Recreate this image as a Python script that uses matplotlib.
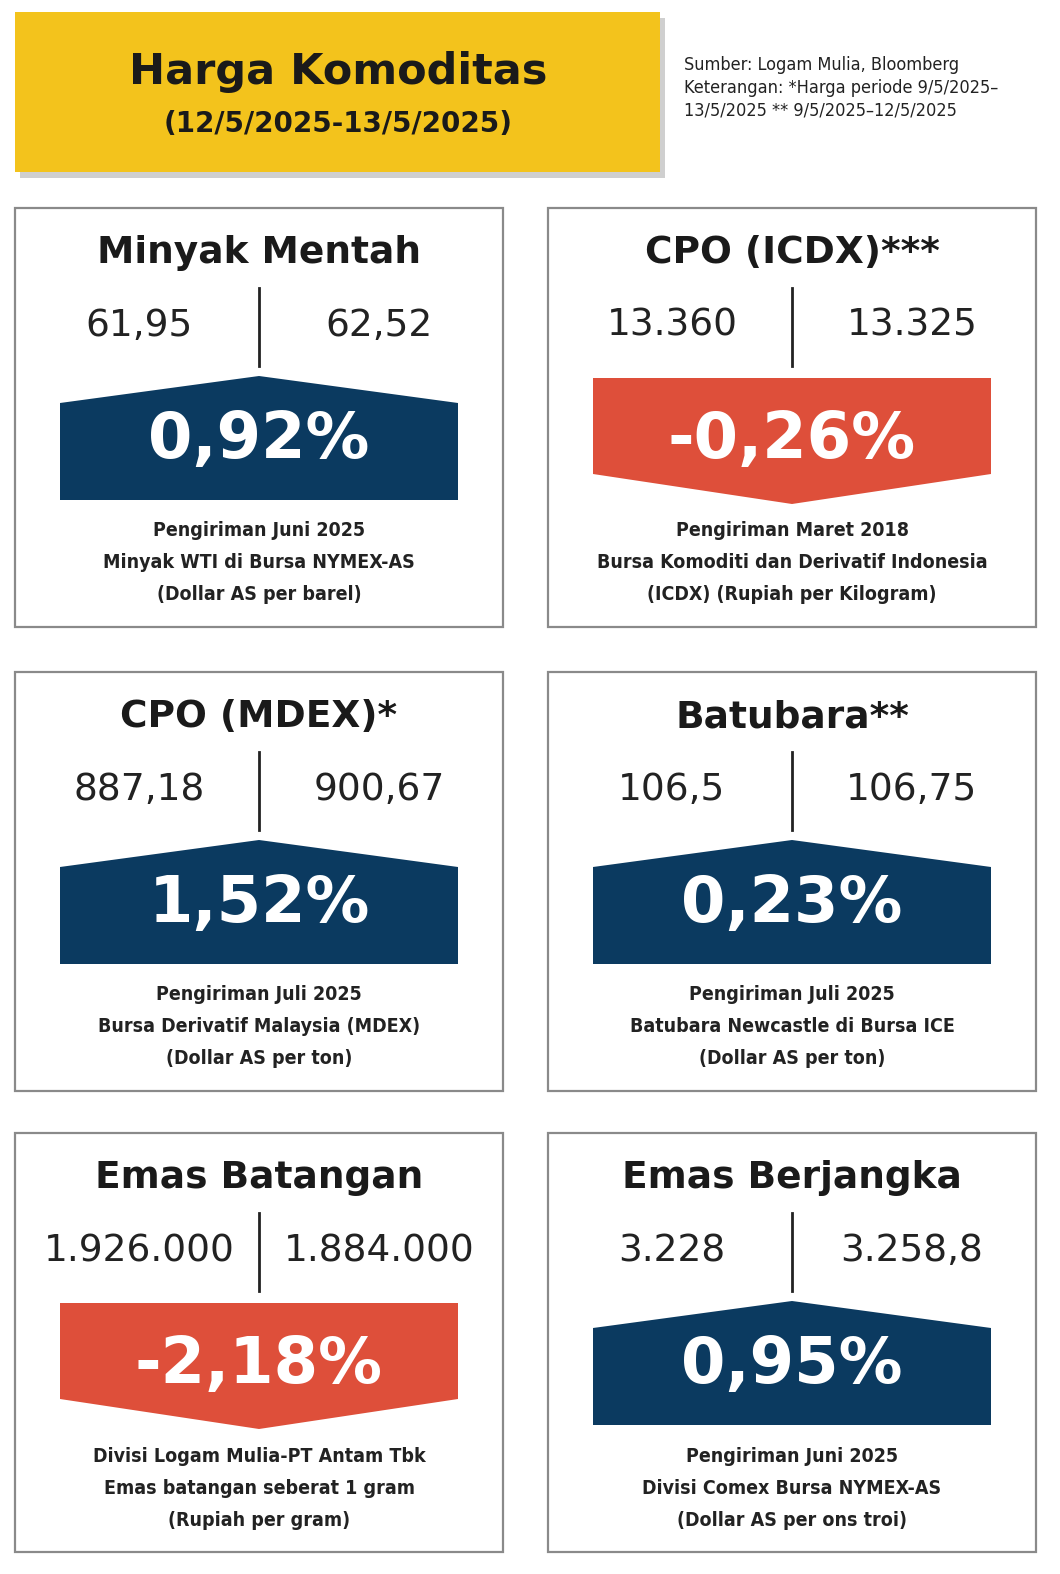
"""
Infografis harga komoditas (12/5/2025-13/5/2025)
"""

import matplotlib
matplotlib.use('Agg')
import matplotlib.pyplot as plt
from matplotlib.patches import Rectangle, Polygon

# Data komoditas
names = ['Minyak Mentah', 'CPO (ICDX)***', 'CPO (MDEX)*', 'Batubara**',
         'Emas Batangan', 'Emas Berjangka']
prev_values = ['61,95', '13.360', '887,18', '106,5', '1.926.000', '3.228']
last_values = ['62,52', '13.325', '900,67', '106,75', '1.884.000', '3.258,8']
changes = [0.92, -0.26, 1.52, 0.23, -2.18, 0.95]
notes = [
    ['Pengiriman Juni 2025', 'Minyak WTI di Bursa NYMEX-AS', '(Dollar AS per barel)'],
    ['Pengiriman Maret 2018', 'Bursa Komoditi dan Derivatif Indonesia', '(ICDX) (Rupiah per Kilogram)'],
    ['Pengiriman Juli 2025', 'Bursa Derivatif Malaysia (MDEX)', '(Dollar AS per ton)'],
    ['Pengiriman Juli 2025', 'Batubara Newcastle di Bursa ICE', '(Dollar AS per ton)'],
    ['Divisi Logam Mulia-PT Antam Tbk', 'Emas batangan seberat 1 gram', '(Rupiah per gram)'],
    ['Pengiriman Juni 2025', 'Divisi Comex Bursa NYMEX-AS', '(Dollar AS per ons troi)'],
]

BLUE = '#0B3A60'
RED = '#DE4F3A'
YELLOW = '#F3C31C'


def draw_panel(ax, x0, y0, i):
    """Satu kotak komoditas"""
    w, h = 488, 419
    cx = x0 + w / 2
    ax.add_patch(Rectangle((x0, y0), w, h, fill=False, ec='#8a8a8a', lw=1.6))
    ax.text(cx, y0 + 45, names[i], ha='center', va='center', fontsize=27,
            fontweight='heavy', color='#1a1a1a')
    ax.plot([cx, cx], [y0 + 80, y0 + 158], color='#222222', lw=2)
    ax.text(cx - 120, y0 + 118, prev_values[i], ha='center', va='center',
            fontsize=27, color='#222222')
    ax.text(cx + 120, y0 + 118, last_values[i], ha='center', va='center',
            fontsize=27, color='#222222')

    left, right = x0 + 45, x0 + w - 45
    if changes[i] >= 0:
        pts = [(left, y0 + 195), (cx, y0 + 168), (right, y0 + 195),
               (right, y0 + 292), (left, y0 + 292)]
        color = BLUE
        label = f'{changes[i]:.2f}%'.replace('.', ',')
    else:
        pts = [(left, y0 + 170), (right, y0 + 170), (right, y0 + 266),
               (cx, y0 + 296), (left, y0 + 266)]
        color = RED
        label = f'{changes[i]:.2f}%'.replace('.', ',')
    ax.add_patch(Polygon(pts, closed=True, fc=color, ec='none'))
    ax.text(cx, y0 + 232, label, ha='center', va='center', fontsize=46,
            fontweight='bold', color='white')

    for k, line in enumerate(notes[i]):
        ax.text(cx, y0 + 323 + 32 * k, line, ha='center', va='center',
                fontsize=14, fontweight='bold', color='#222222',
                fontstretch='condensed')


fig = plt.figure(figsize=(10.6, 15.74), dpi=100)
ax = fig.add_axes([0, 0, 1, 1])
ax.set_xlim(0, 1060)
ax.set_ylim(1574, 0)
ax.axis('off')

# Judul
ax.add_patch(Rectangle((20, 18), 645, 160, fc='#cfcfcf', ec='none'))  # bayangan
ax.add_patch(Rectangle((15, 12), 645, 160, fc=YELLOW, ec='none'))
ax.text(338, 72, 'Harga Komoditas', ha='center', va='center', fontsize=31,
        fontweight='heavy', color='#1a1a1a')
ax.text(338, 124, '(12/5/2025-13/5/2025)', ha='center', va='center',
        fontsize=20, fontweight='bold', color='#1a1a1a')
ax.text(684, 88, 'Sumber: Logam Mulia, Bloomberg\n'
        'Keterangan: *Harga periode 9/5/2025–\n'
        '13/5/2025 ** 9/5/2025–12/5/2025',
        ha='left', va='center', fontsize=13, color='#222222', linespacing=1.35,
        fontstretch='condensed')

xs = [15, 548]
ys = [208, 672, 1133]
for idx in range(6):
    draw_panel(ax, xs[idx % 2], ys[idx // 2], idx)

plt.savefig('out.png', dpi=100)
plt.close(fig)
